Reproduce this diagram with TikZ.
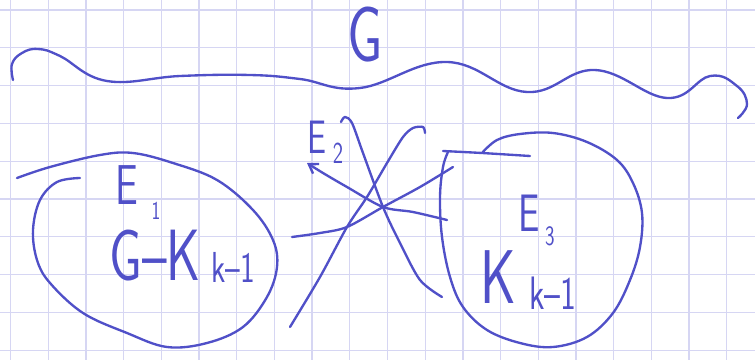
\documentclass[tikz,border=0pt]{standalone}
\usepackage{graphicx}
\usepackage{xcolor}
\usetikzlibrary{arrows.meta}

\definecolor{ink}{RGB}{80,80,200}
\definecolor{gridline}{RGB}{214,214,243}
\newcommand{\narrow}[1]{\scalebox{0.72}[1]{#1}}

\begin{document}
\begin{tikzpicture}[
      x = 0.03cm, y = -0.03cm,
      pen/.style   = {draw = ink, line width = 2pt, line cap = round, line join = round},
      paper/.style = {draw = gridline, line width = 1.1pt},
      hand/.style  = {text = ink, inner sep = 0pt},
      tip/.style   = {-{Straight Barb[length = 2.6mm, width = 3.4mm]}}
    ]
  \path[use as bounding box, fill = white] (0,0) rectangle (755,360);

  % squared paper ---------------------------------------------------------
  \foreach \gx in {0,...,19}
    \draw[paper] (10.5+37.7*\gx,0) -- (10.5+37.7*\gx,360);
  \foreach \gy in {0,...,9}
    \draw[paper] (0,10+37.8*\gy) -- (755,10+37.8*\gy);

  % G and its wavy line -----------------------------------------------------
  \node[hand, font = \sffamily\fontsize{67}{67}\selectfont] (g) at (365,35) {\narrow{G}};
  \draw[pen] plot[smooth, tension = 0.7] coordinates {
      (13,80) (12,64) (22,53) (38,49) (60,56) (107,81) (180,76) (250,75)
      (300,79) (360,88) (447,62) (527,92) (595,70) (667,98) (710,76)
      (737,86) (747,104) (738,118)};

  % left blob: E1 ------------------------------------------------------------
  \draw[pen] plot[smooth, tension = 0.6] coordinates {
      (17,178) (50,167) (100,155) (133,153) (173,163) (217,180) (253,210)
      (273,240) (277,267) (267,297) (243,327) (207,343) (167,347) (127,333)
      (83,313) (50,283) (37,260) (33,230) (40,200) (57,182) (80,178)};
  \node[hand, font = \sffamily\fontsize{48}{48}\selectfont] (e1) at (127,185) {\narrow{E}};
    \node[hand, font = \sffamily\fontsize{22}{22}\selectfont] (e1sub) at (156,211) {\narrow{1}};
  \node[hand, font = \sffamily\fontsize{62}{62}\selectfont] (gk) at (155,256) {\narrow{G–K}};
    \node[hand, font = \sffamily\fontsize{37}{37}\selectfont] (gksub) at (233,267) {\narrow{k–1}};

  % right blob: E3 -----------------------------------------------------------
  \draw[pen] plot[smooth, tension = 0.6] coordinates {
      (482,153) (497,140) (520,134) (553,133) (587,142) (617,160) (633,183)
      (642,213) (640,247) (630,280) (613,313) (587,337) (553,347) (520,343)
      (487,330) (463,307) (450,277) (442,237) (440,197) (443,167) (448,152)};
  \draw[pen] plot[smooth] coordinates {(443,151) (482,153) (530,156)};
  \node[hand, font = \sffamily\fontsize{45}{45}\selectfont] (e3) at (529,213) {\narrow{E}};
    \node[hand, font = \sffamily\fontsize{24}{24}\selectfont] (e3sub) at (550,236) {\narrow{3}};
  \node[hand, font = \sffamily\fontsize{65}{65}\selectfont] (kk) at (498,277) {\narrow{K}};
    \node[hand, font = \sffamily\fontsize{40}{40}\selectfont] (kksub) at (553,293) {\narrow{k–1}};

  % crossing edges: E2 -------------------------------------------------------
  \node[hand, font = \sffamily\fontsize{40}{40}\selectfont] (e2) at (317,137) {\narrow{E}};
    \node[hand, font = \sffamily\fontsize{26}{26}\selectfont] (e2sub) at (338,153) {\narrow{2}};
  \coordinate (a2) at (307,163);
  \draw[pen, tip] plot[smooth] coordinates {
      (447,220) (413,212) (383,207) (347,187) (323,173) (a2)};
  \draw[pen] plot[smooth] coordinates {
      (341,122) (345,117) (352,123) (363,153) (383,207) (400,243) (420,280) (442,297)};
  \draw[pen] plot[smooth] coordinates {
      (290,327) (320,277) (347,227) (367,197) (387,163) (403,137) (413,128) (423,127) (425,133)};
  \draw[pen] plot[smooth] coordinates {
      (292,237) (320,233) (347,227) (383,207) (420,187) (453,167)};

\end{tikzpicture}
\end{document}
